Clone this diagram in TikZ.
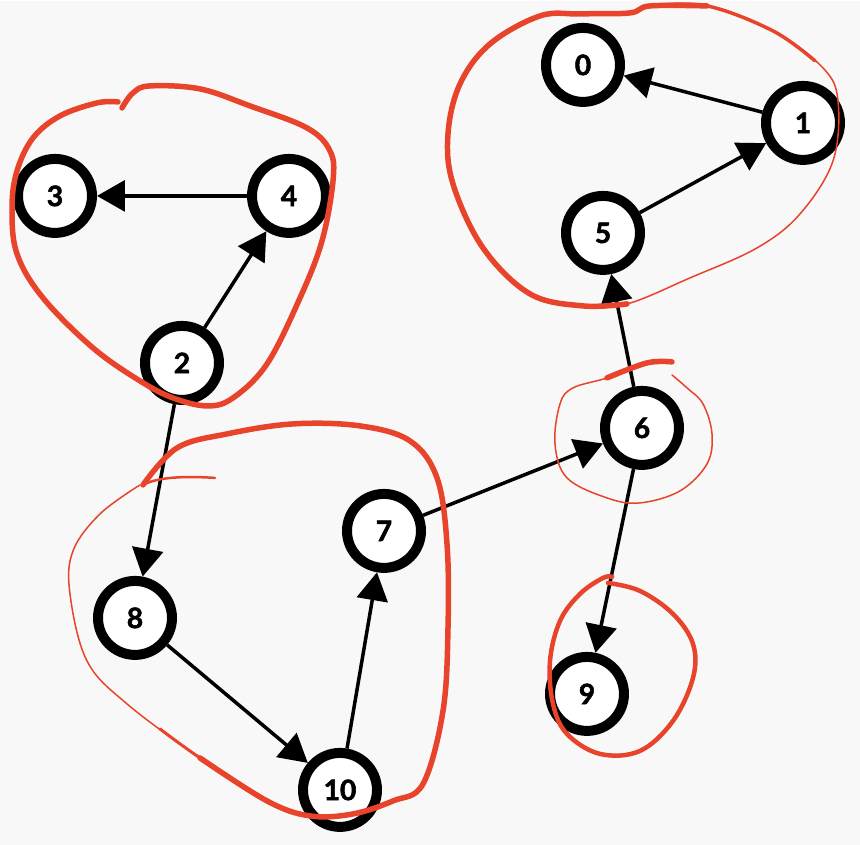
\documentclass[tikz,border=0pt]{standalone}
\usepackage{fontspec}
\setsansfont{Lato}[BoldFeatures={FakeBold=2}]
\usetikzlibrary{arrows.meta}
\definecolor{penred}{HTML}{E8432B}
\definecolor{paper}{HTML}{F8F8F8}

\begin{document}
\begin{tikzpicture}[
  x=0.02cm, y=-0.02cm,
  font=\sffamily\bfseries\fontsize{16}{16}\selectfont,
  vertex/.style={circle, draw=black, fill=white, line width=0.2cm, minimum size=1.48cm, inner sep=0pt},
  edgearrow/.style={draw=black, line width=0.07cm, -{Triangle[length=0.56cm, width=0.62cm]}},
  blob/.style={draw=penred, line width=0.11cm, line cap=round, line join=round},
  thinblob/.style={draw=penred, line width=0.03cm, line cap=round, line join=round}
]

% Paper background fixes the margins
\fill[paper] (0,0) rectangle (860,844);

% Vertices
\node[vertex] (v0) at (583,64) {0};
\node[vertex] (v1) at (803,122) {1};
\node[vertex] (v2) at (182,362) {2};
\node[vertex] (v3) at (55,195) {3};
\node[vertex] (v4) at (289,195) {4};
\node[vertex] (v5) at (603,232) {5};
\node[vertex] (v6) at (642,427) {6};
\node[vertex] (v7) at (384,530) {7};
\node[vertex] (v8) at (135,617) {8};
\node[vertex] (v9) at (587,693) {9};
\node[vertex] (v10) at (340,789) {10};

% Directed edges
\draw[edgearrow] (v1) -- (v0);
\draw[edgearrow] (v5) -- (v1);
\draw[edgearrow] (v6) -- (v5);
\draw[edgearrow] (v4) -- (v3);
\draw[edgearrow] (v2) -- (v4);
\draw[edgearrow] (v2) -- (v8);
\draw[edgearrow] (v8) -- (v10);
\draw[edgearrow] (v10) -- (v7);
\draw[edgearrow] (v7) -- (v6);
\draw[edgearrow] (v6) -- (v9);

% Hand-drawn loops round the components
% Loop round 2, 3, 4
\draw[blob] plot[smooth, tension=0.6] coordinates {(122,107) (133,92) (150,85) (200,88) (250,105) (307,127) (330,150) (333,180) (322,240) (300,297) (267,363) (233,397) (207,405) (173,397) (140,380) (93,347) (43,297) (17,253) (12,207) (17,170) (33,137) (60,115) (97,102) (118,101)};

% Loop round 7, 8, 10
\draw[thinblob] plot[smooth, tension=0.6] coordinates {(143,484) (177,447) (227,433) (293,423) (360,425) (410,440) (437,477) (447,543) (448,627) (443,710) (423,783) (393,800) (353,813) (310,815) (267,800) (200,757) (127,703) (87,660) (70,593) (73,550) (100,513) (140,484)};
\draw[blob] plot[smooth, tension=0.6] coordinates {(143,484) (177,447) (227,433) (293,423) (360,425) (410,440) (437,477) (447,543) (448,627) (443,710) (423,783) (393,800) (353,813) (310,815) (267,800) (200,757)};
\draw[penred, line width=0.06cm, line cap=round] plot[smooth, tension=0.6] coordinates {(267,800) (200,757) (160,728)};
\draw[penred, line width=0.05cm, line cap=round] (215,477) .. controls (185,475) and (158,476) .. (143,484);

% Loop round 0, 1, 5
\draw[thinblob] plot[smooth, tension=0.6] coordinates {(540,15) (580,13) (630,12) (650,5) (707,5) (773,30) (823,67) (838,100) (833,160) (800,213) (757,247) (690,277) (627,303) (583,305) (530,293) (483,247) (453,183) (448,133) (460,83) (490,43) (540,15)};
\draw[blob] plot[smooth, tension=0.6] coordinates {(627,303) (583,305) (530,293) (483,247) (453,183) (448,133) (460,83) (490,43) (540,15) (580,13) (630,12) (650,5) (707,5)};
\draw[penred, line width=0.07cm, line cap=round] plot[smooth, tension=0.6] coordinates {(650,5) (707,5) (773,30) (815,60)};

% Loop round 6
\draw[thinblob] plot[smooth, tension=0.6] coordinates {(672,361) (647,362) (607,377) (573,387) (560,403) (555,443) (567,477) (607,497) (640,502) (680,490) (707,463) (712,433) (703,403) (687,387) (672,374)};
\draw[blob] plot[smooth, tension=0.6] coordinates {(672,361) (647,362) (607,377)};

% Loop round 9
\draw[blob, line width=0.09cm] plot[smooth, tension=0.6] coordinates {(608,582) (640,590) (673,613) (693,643) (693,677) (673,720) (640,750) (600,753) (567,733) (553,703) (550,660) (560,620) (580,593) (603,577) (612,576)};

\end{tikzpicture}
\end{document}
